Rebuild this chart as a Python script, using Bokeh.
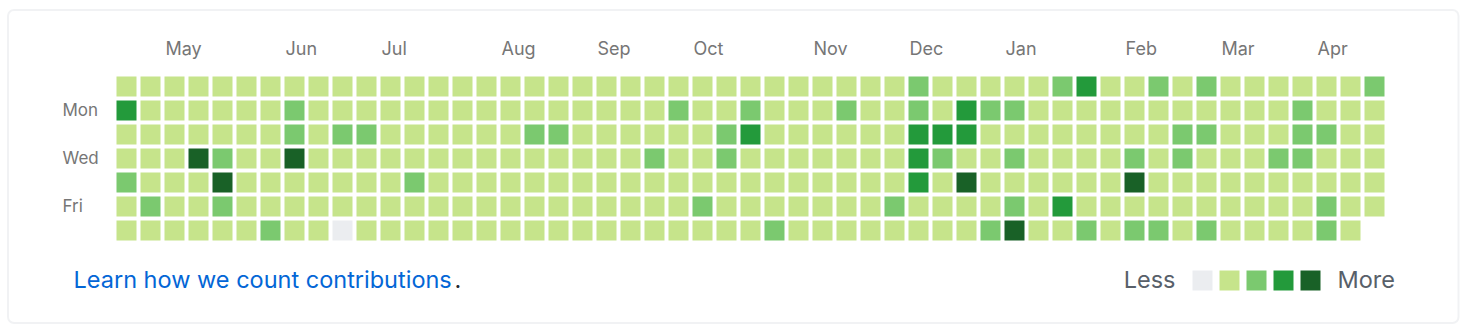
from bokeh.plotting import figure
from bokeh.models import ColumnDataSource, Range1d, BoxAnnotation
from bokeh.core.properties import value
from bokeh.embed import file_html
from bokeh.resources import INLINE

# contribution levels, one list per weekday row (Sun..Sat), one value per week
sun = [1,1,1,1,1,1,1,1,1,1, 1,1,1,1,1,1,1,1,1,1, 1,1,1,1,1,1,1,1,1,1,
       1,1,1,2,1,1,1,1,1,2, 3,1,1,2,1,2,1,1,1,1, 1,1,2]
mon = [3,1,1,1,1,1,1,2,1,1, 1,1,1,1,1,1,1,1,1,1, 1,1,1,2,1,1,2,1,1,1,
       2,1,1,2,1,3,2,2,1,1, 1,1,1,1,1,1,1,1,1,2, 1,1,1]
tue = [1,1,1,1,1,1,1,2,1,2, 2,1,1,1,1,1,1,2,2,1, 1,1,1,1,1,2,3,1,1,1,
       1,1,1,3,3,3,1,1,1,1, 1,1,1,1,2,2,1,1,1,2, 2,1,1]
wed = [1,1,1,4,2,1,1,4,1,1, 1,1,1,1,1,1,1,1,1,1, 1,1,2,1,1,2,1,1,1,1,
       1,1,1,3,2,1,1,2,1,1, 1,1,2,1,2,1,1,1,2,2, 1,1,1]
thu = [2,1,1,1,4,1,1,1,1,1, 1,1,2,1,1,1,1,1,1,1, 1,1,1,1,1,1,1,1,1,1,
       1,1,1,3,1,4,1,1,1,1, 1,1,4,1,1,1,1,1,1,1, 1,1,1]
fri = [1,2,1,1,2,1,1,1,1,1, 1,1,1,1,1,1,1,1,1,1, 1,1,1,1,2,1,1,1,1,1,
       1,1,2,1,1,1,1,2,1,3, 1,1,1,1,1,1,1,1,1,1, 2,1,1]
sat = [1,1,1,1,1,1,2,1,1,0, 1,1,1,1,1,1,1,1,1,1, 1,1,1,1,1,1,1,2,1,1,
       1,1,1,1,1,1,2,4,1,1, 2,1,2,2,1,2,1,1,1,1, 2,1]
rows = [sun, mon, tue, wed, thu, fri, sat]

palette = ["#ebedf0", "#c6e48b", "#7bc96f", "#239a3b", "#196127"]

month_labels = ["May", "Jun", "Jul", "Aug", "Sep", "Oct", "Nov", "Dec", "Jan", "Feb", "Mar", "Apr"]
month_weeks = [2, 7, 11, 16, 20, 24, 29, 33, 37, 42, 46, 50]

day_labels = ["Mon", "Wed", "Fri"]
day_rows = [1, 3, 5]

legend_levels = [0, 1, 2, 3, 4]

# ---- build cell table
wk, dy, col = [], [], []
for d, r in enumerate(rows):
    for w, lv in enumerate(r):
        wk.append(w)
        dy.append(d)
        col.append(palette[lv])
src = ColumnDataSource(dict(week=wk, day=dy, color=col))

PX = 24.0  # pixels per week / day unit
SHIFT = 7  # baseline correction in px
p = figure(width=1466, height=332, output_backend="svg", toolbar_location=None,
           x_range=Range1d(-126 / PX, (1466 - 126) / PX),
           y_range=Range1d((332 - 86) / PX, -86 / PX),
           x_axis_type=None, y_axis_type=None, min_border=0,
           background_fill_color="white", border_fill_color="white")
p.outline_line_color = None
p.grid.visible = False

p.rect(x="week", y="day", width=20 / PX, height=20 / PX, fill_color="color",
       line_color=None, source=src)

# card border
p.add_layout(BoxAnnotation(left=(7.5 - 126) / PX, right=(1458 - 126) / PX,
                           top=(9.5 - 86) / PX, bottom=(322.5 - 86) / PX,
                           fill_color=None, fill_alpha=0, line_color="#d1d5da",
                           line_width=2, border_radius=6))

FONT = value("Inter")
label_color = "#767676"

# month labels
p.text(x=[m - 9 / PX for m in month_weeks], y=[(-31 - SHIFT) / PX] * len(month_weeks),
       text=month_labels, text_font=FONT, text_font_size="18px", text_color=label_color,
       text_align="left", text_baseline="alphabetic")

# day labels
p.text(x=[-64 / PX] * len(day_rows), y=[r + (6.5 - SHIFT) / PX for r in day_rows], text=day_labels,
       text_font=FONT, text_font_size="17px", text_color=label_color,
       text_align="left", text_baseline="alphabetic")

# footer
p.text(x=[-53 / PX], y=[(200 - SHIFT) / PX], text=["Learn how we count contributions"],
       text_font=FONT, text_font_size="23.5px", text_color="#0366d6",
       text_align="left", text_baseline="alphabetic")
p.text(x=[(454 - 126) / PX], y=[(200 - SHIFT) / PX], text=["."],
       text_font=FONT, text_font_size="23.5px", text_color="#24292e",
       text_align="left", text_baseline="alphabetic")

# legend
lx0 = (1202 - 126) / PX
ly = (280 - 86) / PX
p.rect(x=[lx0 + k * 27 / PX for k in range(len(legend_levels))], y=[ly] * len(legend_levels),
       width=20 / PX, height=20 / PX, fill_color=[palette[k] for k in legend_levels],
       line_color=None)
p.text(x=[(1175 - 126) / PX], y=[(286 - 86 - SHIFT) / PX], text=["Less"],
       text_font=FONT, text_font_size="23.5px", text_color="#586069",
       text_align="right", text_baseline="alphabetic")
p.text(x=[(1337 - 126) / PX], y=[(286 - 86 - SHIFT) / PX], text=["More"],
       text_font=FONT, text_font_size="23.5px", text_color="#586069",
       text_align="left", text_baseline="alphabetic")

open("out.html", "w").write(file_html(p, INLINE))
